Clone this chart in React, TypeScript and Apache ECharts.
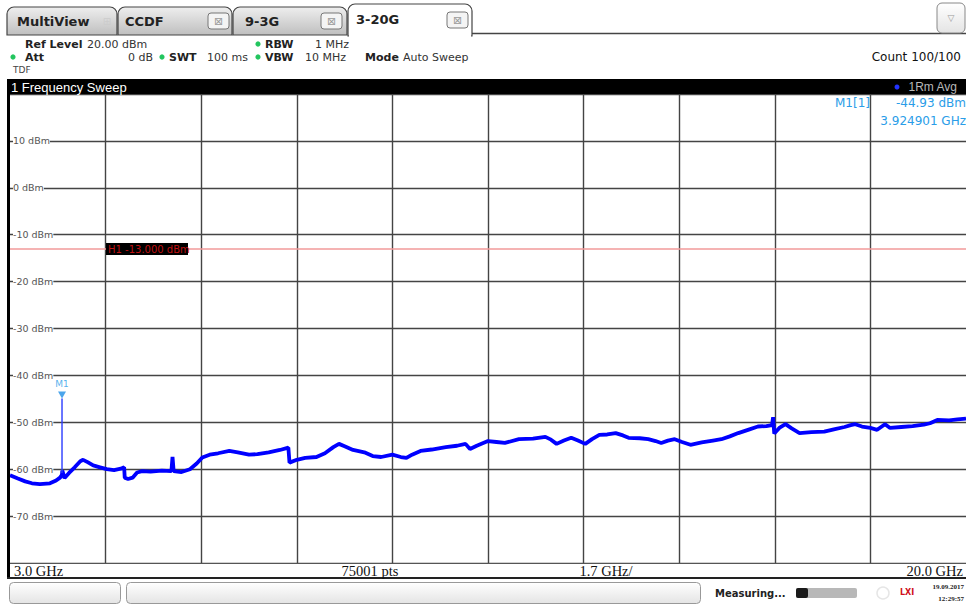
import React, { useEffect, useRef } from "react";
import * as echarts from "echarts";

// ---- data ----
const startGHz = 3.0;
const stopGHz = 20.0;
const spanPerDivGHz = 1.7;
const refLevelDbm = 20;
const bottomDbm = -80;
const dbPerDiv = 10;
const h1LimitDbm = -13;

const traceFreqGHz = [
  3.0, 3.14, 3.27, 3.39, 3.53, 3.71, 3.82, 3.89, 3.924, 3.93, 3.97, 4.05, 4.15, 4.25, 4.3, 4.38, 4.48, 4.6,
  4.72, 4.85, 4.97, 5.03, 5.04, 5.1, 5.18, 5.26, 5.35, 5.5, 5.7, 5.87, 5.89, 5.91, 6.05, 6.2, 6.32, 6.42,
  6.55, 6.7, 6.9, 7.05, 7.25, 7.4, 7.6, 7.8, 7.95, 7.97, 8.1, 8.25, 8.45, 8.6, 8.75, 8.85, 8.95, 9.1, 9.3,
  9.45, 9.6, 9.8, 9.95, 10.05, 10.15, 10.3, 10.5, 10.75, 10.95, 11.1, 11.18, 11.3, 11.5, 11.65, 11.8,
  12.05, 12.3, 12.52, 12.62, 12.72, 12.85, 12.98, 13.1, 13.23, 13.35, 13.48, 13.62, 13.77, 13.9, 14.0,
  14.2, 14.35, 14.48, 14.58, 14.7, 14.82, 14.95, 15.1, 15.3, 15.5, 15.65, 15.8, 15.95, 16.15, 16.3, 16.45,
  16.55, 16.57, 16.59, 16.68, 16.79, 16.9, 17.04, 17.25, 17.48, 17.65, 17.84, 17.95, 18.03, 18.15, 18.3,
  18.42, 18.56, 18.65, 18.85, 19.05, 19.25, 19.36, 19.49, 19.7, 19.85, 20.0,
];
const traceLevelDbm = [
  -61.3, -62.0, -62.6, -63.0, -63.2, -63.0, -62.4, -61.8, -61.2, -60.3, -61.9, -60.8, -59.6, -58.3, -58.0,
  -58.5, -59.2, -59.6, -60.0, -60.2, -59.9, -59.6, -61.8, -62.1, -61.8, -60.7, -60.4, -60.5, -60.3, -60.4,
  -57.4, -60.4, -60.6, -60.0, -58.8, -57.5, -56.9, -56.6, -56.1, -56.4, -56.9, -56.8, -56.4, -55.9, -55.4,
  -58.6, -58.0, -57.6, -57.4, -56.6, -55.3, -54.6, -55.1, -55.9, -56.4, -57.2, -57.4, -56.9, -57.4, -57.6,
  -56.9, -56.1, -55.8, -55.3, -55.0, -54.6, -55.7, -55.0, -54.0, -54.2, -54.4, -53.6, -53.5, -53.1, -53.7,
  -54.6, -53.9, -53.3, -53.9, -54.6, -53.6, -52.7, -52.6, -52.3, -52.8, -53.3, -53.4, -53.6, -54.0, -54.4,
  -53.9, -53.6, -54.2, -54.8, -54.3, -53.9, -53.6, -53.0, -52.3, -51.5, -50.9, -50.8, -50.6, -48.9, -52.4,
  -51.2, -50.4, -51.3, -52.3, -52.1, -52.0, -51.5, -51.0, -50.6, -50.4, -50.9, -51.2, -51.6, -50.4, -51.2,
  -51.0, -50.8, -50.5, -50.2, -49.5, -49.6, -49.4, -49.2,
];
const markerFreqGHz = [3.924901];
const markerLevelDbm = [-44.93];
const markerBaseDbm = [-60.8];

const yTickLabels = ["10 dBm", "0 dBm", "-10 dBm", "-20 dBm", "-30 dBm", "-40 dBm", "-50 dBm", "-60 dBm", "-70 dBm"];

const SANS = "DejaVu Sans";
const SERIF = "Liberation Serif";

export default function App() {
  const ref = useRef<HTMLDivElement>(null);

  useEffect(() => {
    if (!ref.current) return;
    const chart = echarts.init(ref.current, null, { renderer: "svg" });

    const traceData = traceFreqGHz.map((f, i) => [f, traceLevelDbm[i]]);
    const spikeData = [
      [markerFreqGHz[0], markerBaseDbm[0]],
      [markerFreqGHz[0], markerLevelDbm[0]],
    ];
    const nDiv = Math.round((stopGHz - startGHz) / spanPerDivGHz);
    const vGrid: any[] = [];
    for (let i = 1; i < nDiv; i++) {
      vGrid.push({ xAxis: +(startGHz + i * spanPerDivGHz).toFixed(3) });
    }

    const tabGrad = new echarts.graphic.LinearGradient(0, 0, 0, 1, [
      { offset: 0, color: "#eeeeee" },
      { offset: 1, color: "#bfbfbf" },
    ]);
    const boxGrad = new echarts.graphic.LinearGradient(0, 0, 0, 1, [
      { offset: 0, color: "#ffffff" },
      { offset: 1, color: "#e4e4e4" },
    ]);

    const closeBox = (x: number, y: number) => ({
      type: "group",
      x,
      y,
      children: [
        {
          type: "rect",
          shape: { x: 0, y: 0, width: 21, height: 16, r: 3 },
          style: { fill: "#f4f4f4", stroke: "#777", lineWidth: 1 },
        },
        {
          type: "text",
          style: { x: 10.5, y: 8, text: "⊠", fill: "#999", font: `11px ${SANS}`, align: "center", verticalAlign: "middle" },
        },
      ],
    });

    const txt = (x: number, y: number, text: string, opts: any = {}) => ({
      type: "text",
      z: 100,
      style: {
        x,
        y,
        text,
        fill: opts.fill || "#222",
        font: `${opts.bold ? "bold " : ""}${opts.size || 11}px ${opts.family || SANS}`,
        align: opts.align || "left",
        verticalAlign: "middle",
      },
    });
    const dot = (x: number, y: number, color = "#22c55e") => ({
      type: "circle",
      z: 100,
      shape: { cx: x, cy: y, r: 2.6 },
      style: { fill: color },
    });

    const graphics: any[] = [
      // tabs
      {
        type: "rect",
        shape: { x: 7, y: 7, width: 110, height: 28, r: [7, 7, 0, 0] },
        style: { fill: tabGrad, stroke: "#444", lineWidth: 1.2 },
      },
      txt(17, 21, "MultiView", { bold: true, size: 13 }),
      txt(107, 21, "⊞", { fill: "#ccc", size: 10, align: "center" }),
      {
        type: "rect",
        shape: { x: 118, y: 7, width: 114, height: 28, r: [7, 7, 0, 0] },
        style: { fill: tabGrad, stroke: "#444", lineWidth: 1.2 },
      },
      txt(125, 21, "CCDF", { bold: true, size: 13 }),
      closeBox(208, 13),
      {
        type: "rect",
        shape: { x: 233, y: 7, width: 114, height: 28, r: [7, 7, 0, 0] },
        style: { fill: tabGrad, stroke: "#444", lineWidth: 1.2 },
      },
      txt(245, 21, "9-3G", { bold: true, size: 13 }),
      closeBox(321, 13),
      { type: "line", shape: { x1: 470, y1: 33.5, x2: 966, y2: 33.5 }, style: { stroke: "#444", lineWidth: 1.5 } },
      {
        type: "rect",
        shape: { x: 348, y: 4, width: 124, height: 32, r: [7, 7, 0, 0] },
        style: { fill: "#ffffff", stroke: "#444", lineWidth: 1.2 },
      },
      { type: "rect", shape: { x: 349, y: 33, width: 122, height: 4 }, style: { fill: "#ffffff" } },
      txt(356, 19, "3-20G", { bold: true, size: 13 }),
      closeBox(447, 12),
      {
        type: "rect",
        shape: { x: 937, y: 3, width: 28, height: 30, r: 5 },
        style: { fill: boxGrad, stroke: "#888", lineWidth: 1 },
      },
      txt(951, 18, "▽", { fill: "#999", size: 9, align: "center" }),

      // header info
      txt(25, 44, "Ref Level", { bold: true, size: 11 }),
      txt(87, 44, "20.00 dBm", { size: 11, fill: "#333" }),
      dot(258, 44),
      txt(265, 44, "RBW", { bold: true, size: 11 }),
      txt(315, 44, "1 MHz", { size: 11, fill: "#333" }),
      dot(13, 57),
      txt(25, 57, "Att", { bold: true, size: 11 }),
      txt(153, 57, "0 dB", { size: 11, fill: "#333", align: "right" }),
      dot(162, 57),
      txt(169, 57, "SWT", { bold: true, size: 11 }),
      txt(207, 57, "100 ms", { size: 11, fill: "#333" }),
      dot(258, 57),
      txt(265, 57, "VBW", { bold: true, size: 11 }),
      txt(305, 57, "10 MHz", { size: 11, fill: "#333" }),
      txt(365, 57, "Mode", { bold: true, size: 11 }),
      txt(403, 57, "Auto Sweep", { size: 11, fill: "#333" }),
      txt(13, 70, "TDF", { size: 9, fill: "#444" }),
      txt(961, 57, "Count 100/100", { size: 12, align: "right", fill: "#111" }),

      // title bar
      { type: "rect", z: 90, shape: { x: 7, y: 79, width: 959, height: 15 }, style: { fill: "#000" } },
      txt(11, 87, "1 Frequency Sweep", { fill: "#ffffff", size: 13, family: "Liberation Sans" }),
      { type: "circle", z: 100, shape: { cx: 897, cy: 87, r: 2.5 }, style: { fill: "#2233ff" } },
      txt(957, 87, "1Rm Avg", { fill: "#b8b8b8", size: 12, align: "right", family: "Liberation Sans" }),

      // marker readout
      txt(870, 103, "M1[1]", { fill: "#2a9de8", size: 12, align: "right" }),
      txt(966, 103, "-44.93 dBm", { fill: "#2a9de8", size: 12, align: "right" }),
      txt(966, 121, "3.924901 GHz", { fill: "#2a9de8", size: 12, align: "right" }),

      // H1 label
      { type: "rect", z: 100, shape: { x: 106, y: 243, width: 82, height: 12 }, style: { fill: "#000" } },
      txt(108, 249.5, "H1 -13.000 dBm", { fill: "#c01010", size: 10 }),

      // left border
      { type: "rect", z: 95, shape: { x: 7, y: 79, width: 3, height: 500 }, style: { fill: "#000" } },

      // bottom bar
      { type: "rect", z: 90, shape: { x: 10, y: 564, width: 956, height: 13 }, style: { fill: "#ffffff" } },
      { type: "line", z: 95, shape: { x1: 10, y1: 563.5, x2: 966, y2: 563.5 }, style: { stroke: "#555", lineWidth: 1 } },
      txt(14, 571, "3.0 GHz", { family: SERIF, size: 14.5, fill: "#111" }),
      txt(370, 571, "75001 pts", { family: SERIF, size: 14.5, fill: "#111", align: "center" }),
      txt(606, 571, "1.7 GHz/", { family: SERIF, size: 14.5, fill: "#111", align: "center" }),
      txt(963, 571, "20.0 GHz", { family: SERIF, size: 14.5, fill: "#111", align: "right" }),
      { type: "line", z: 95, shape: { x1: 7, y1: 578, x2: 966, y2: 578 }, style: { stroke: "#222", lineWidth: 2 } },

      // status bar
      {
        type: "rect",
        shape: { x: 9.5, y: 582.5, width: 111, height: 21, r: 4 },
        style: { fill: boxGrad, stroke: "#999", lineWidth: 1 },
      },
      {
        type: "rect",
        shape: { x: 126.5, y: 582.5, width: 574, height: 21, r: 4 },
        style: { fill: boxGrad, stroke: "#999", lineWidth: 1 },
      },
      txt(715, 593, "Measuring...", { bold: true, size: 10, fill: "#222" }),
      { type: "rect", shape: { x: 796, y: 588, width: 61, height: 10, r: 2 }, style: { fill: "#b8b8b8" } },
      { type: "rect", shape: { x: 796, y: 588, width: 12, height: 10, r: 2 }, style: { fill: "#1a1a1a" } },
      { type: "circle", shape: { cx: 883, cy: 593, r: 6 }, style: { fill: "none", stroke: "#e6e6e6", lineWidth: 1.5 } },
      txt(907, 592, "LXI", { bold: true, size: 8, fill: "#d01020", align: "center" }),
      txt(964, 587, "19.09.2017", { bold: true, size: 7, fill: "#222", align: "right", family: SERIF }),
      txt(964, 599, "12:29:57", { bold: true, size: 7, fill: "#222", align: "right", family: SERIF }),
    ];

    chart.setOption({
      animation: false,
      backgroundColor: "#ffffff",
      grid: { left: 10, top: 94, width: 959, height: 469, containLabel: false },
      xAxis: {
        type: "value",
        min: startGHz,
        max: stopGHz,
        show: false,
        splitLine: { show: false },
      },
      yAxis: {
        type: "value",
        min: bottomDbm,
        max: refLevelDbm,
        interval: dbPerDiv,
        axisLine: { show: false },
        axisTick: { show: false },
        axisLabel: {
          inside: true,
          margin: 3,
          color: "#555",
          fontFamily: SANS,
          fontSize: 9.5,
          backgroundColor: "#ffffff",
          formatter: (v: number) => {
            const idx = Math.round((refLevelDbm - dbPerDiv - v) / dbPerDiv);
            return idx >= 0 && idx < yTickLabels.length ? yTickLabels[idx] : "";
          },
        },
        splitLine: { show: true, lineStyle: { color: "#444444", width: 1.4 } },
        z: 1,
      },
      series: [
        {
          type: "line",
          data: [[startGHz, bottomDbm]],
          symbol: "none",
          lineStyle: { opacity: 0 },
          silent: true,
          z: 1,
          markLine: {
            silent: true,
            symbol: ["none", "none"],
            label: { show: false },
            lineStyle: { color: "#444444", width: 1.4, type: "solid" },
            data: vGrid,
          },
        },
        {
          type: "line",
          data: [[startGHz, bottomDbm]],
          symbol: "none",
          lineStyle: { opacity: 0 },
          silent: true,
          z: 2,
          markLine: {
            silent: true,
            symbol: ["none", "none"],
            label: { show: false },
            lineStyle: { color: "#f29a9a", width: 1.5, type: "solid" },
            data: [{ yAxis: h1LimitDbm }],
          },
        },
        {
          name: "Trace",
          type: "line",
          data: traceData,
          symbol: "none",
          lineStyle: { color: "#0000ff", width: 3.8 },
          z: 5,
        },
        {
          type: "line",
          data: spikeData,
          symbol: "none",
          lineStyle: { color: "#2a3cff", width: 1.4 },
          z: 5,
        },
        {
          type: "scatter",
          data: [[markerFreqGHz[0], markerLevelDbm[0]]],
          symbol: "triangle",
          symbolRotate: 180,
          symbolSize: [8, 7],
          symbolOffset: [0, -3.5],
          itemStyle: { color: "#1e8fe6" },
          label: {
            show: true,
            position: "top",
            distance: 3,
            formatter: "M1",
            color: "#2a9de8",
            fontFamily: SANS,
            fontSize: 9,
          },
          z: 6,
        },
      ],
      graphic: graphics,
    });

    return () => chart.dispose();
  }, []);

  return (
    <div
      ref={ref}
      style={{ position: "fixed", left: 0, top: 0, width: 966, height: 605, background: "#fff" }}
    />
  );
}
